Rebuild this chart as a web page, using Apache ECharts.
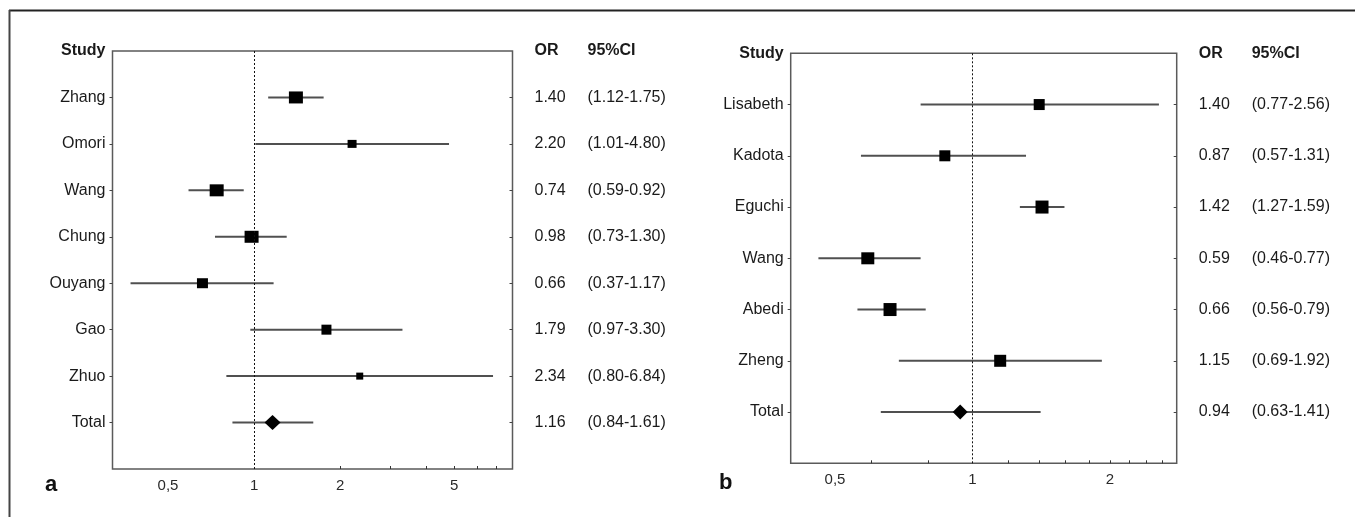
<!DOCTYPE html>
<html>
<head>
<meta charset="utf-8">
<script src="https://cdn.jsdelivr.net/npm/echarts@6/dist/echarts.min.js"></script>
<style>
html,body{margin:0;padding:0;background:#fff;}
#chart{width:1355px;height:517px;}
</style>
</head>
<body>
<div id="chart"></div>
<script>
// ---------- data ----------
const studiesA = ['Zhang', 'Omori', 'Wang', 'Chung', 'Ouyang', 'Gao', 'Zhuo', 'Total'];
const orA      = [1.40, 2.20, 0.74, 0.98, 0.66, 1.79, 2.34, 1.16];
const lowA     = [1.12, 1.01, 0.59, 0.73, 0.37, 0.97, 0.80, 0.84];
const highA    = [1.75, 4.80, 0.92, 1.30, 1.17, 3.30, 6.84, 1.61];

const studiesB = ['Lisabeth', 'Kadota', 'Eguchi', 'Wang', 'Abedi', 'Zheng', 'Total'];
const orB      = [1.40, 0.87, 1.42, 0.59, 0.66, 1.15, 0.94];
const lowB     = [0.77, 0.57, 1.27, 0.46, 0.56, 0.69, 0.63];
const highB    = [2.56, 1.31, 1.59, 0.77, 0.79, 1.92, 1.41];

const xLabelsA = [0.5, 1, 2, 5];
const xMinorA  = [2, 3, 4, 5, 6, 7];
const xLabelsB = [0.5, 1, 2];
const xMinorB  = [0.6, 0.8, 1.2, 1.4, 1.6, 1.8, 2, 2.2, 2.4, 2.6];

const headers = ['Study', 'OR', '95%CI'];
const panelNames = ['a', 'b'];

// ---------- styles ----------
const markSizeA = [[14,12],[9,8],[14,12],[14,12],[11,10],[10,10],[7,7],[16,15]];
const markSizeB = [[11,11],[11,11],[13,13],[13,12],[13,13],[12,12],[15,15]];
const FONT = '"Liberation Sans", Arial, sans-serif';
const TXT = '#1a1a1a';

const chart = echarts.init(document.getElementById('chart'), null, {renderer: 'canvas'});

function fmt(v) { return v.toFixed(2); }
function range(a, b) { const r = []; for (let i = a; i <= b; i++) r.push(i); return r; }

function buildPanel(idx, studies, ors, lows, highs, xmin, xmax, xLabels, xMinor, sizes) {
  const n = studies.length;
  const xAxis = {
    gridIndex: idx, type: 'log', logBase: 10, min: xmin, max: xmax,
    position: 'bottom',
    axisLine: {show: false, onZero: false},
    splitLine: {show: false},
    axisTick: {show: true, inside: true, length: 3, customValues: xMinor,
               lineStyle: {color: '#333', width: 1}},
    axisLabel: {show: true, customValues: xLabels, margin: 9,
                fontFamily: FONT, fontSize: 15, color: '#2a2a2a',
                formatter: v => (Math.round(v * 10) / 10).toString().replace('.', ',')}
  };
  const nameAt = (v) => studies[Math.round(v) - 1];
  const yLeft = {
    gridIndex: idx, type: 'value', min: 0, max: n + 1, inverse: true,
    position: 'left',
    axisLine: {show: false, onZero: false}, splitLine: {show: false},
    axisTick: {show: true, length: 3, customValues: range(1, n),
               lineStyle: {color: '#444'}},
    axisLabel: {customValues: range(0, n), margin: 7, fontFamily: FONT, fontSize: 16, color: TXT,
      formatter: (v) => Math.round(v) === 0 ? '{h|' + headers[0] + '}' : nameAt(v),
      rich: {h: {fontWeight: 'bold', fontFamily: FONT, fontSize: 16, color: TXT}}}
  };
  const yRight = {
    gridIndex: idx, type: 'value', min: 0, max: n + 1, inverse: true,
    position: 'right',
    axisLine: {show: false, onZero: false}, splitLine: {show: false},
    axisTick: {show: true, inside: true, length: 3, customValues: range(1, n),
               lineStyle: {color: '#444'}},
    axisLabel: {customValues: range(0, n), margin: 22, fontFamily: FONT, fontSize: 16, color: TXT,
      formatter: (v) => {
        const i = Math.round(v);
        if (i === 0) return '{ho|' + headers[1] + '}{hc|' + headers[2] + '}';
        const k = i - 1;
        return '{o|' + fmt(ors[k]) + '}{c|(' + fmt(lows[k]) + '-' + fmt(highs[k]) + ')}';
      },
      rich: {
        ho: {width: 53, fontWeight: 'bold', fontFamily: FONT, fontSize: 16, color: TXT},
        hc: {fontWeight: 'bold', fontFamily: FONT, fontSize: 16, color: TXT},
        o: {width: 53, fontFamily: FONT, fontSize: 16, color: TXT},
        c: {fontFamily: FONT, fontSize: 16, color: TXT}
      }}
  };
  const ciSeries = {
    type: 'custom', xAxisIndex: idx, yAxisIndex: idx * 2,
    data: lows.map((l, i) => [l, i + 1, highs[i]]),
    renderItem: (params, api) => {
      const p1 = api.coord([api.value(0), api.value(1)]);
      const p2 = api.coord([api.value(2), api.value(1)]);
      return {type: 'line', shape: {x1: p1[0], y1: p1[1], x2: p2[0], y2: p2[1]},
              style: {stroke: '#505050', lineWidth: 2}};
    },
    silent: true, z: 2
  };
  const ptSeries = {
    type: 'scatter', xAxisIndex: idx, yAxisIndex: idx * 2, z: 3, silent: true,
    data: ors.map((v, i) => ({
      value: [v, i + 1],
      symbol: i === n - 1 ? 'diamond' : 'rect',
      symbolSize: sizes[i]
    })),
    itemStyle: {color: '#000', opacity: 1},
    markLine: {
      silent: true, symbol: ['none', 'none'], label: {show: false},
      lineStyle: {type: [2, 2], color: '#111', width: 1},
      data: [{xAxis: 1}]
    }
  };
  return {xAxis, yAxes: [yLeft, yRight], series: [ciSeries, ptSeries]};
}

const pA = buildPanel(0, studiesA, orA, lowA, highA, 0.32, 8, xLabelsA, xMinorA, markSizeA);
const pB = buildPanel(1, studiesB, orB, lowB, highB, 0.4, 2.8, xLabelsB, xMinorB, markSizeB);

const option = {
  animation: false,
  backgroundColor: '#fff',
  grid: [
    {left: 112.5, top: 51, width: 400, height: 418, show: true,
     borderColor: '#5a5a5a', borderWidth: 1.5, containLabel: false},
    {left: 790.7, top: 53.3, width: 386, height: 410, show: true,
     borderColor: '#5a5a5a', borderWidth: 1.5, containLabel: false}
  ],
  xAxis: [pA.xAxis, pB.xAxis],
  yAxis: [pA.yAxes[0], pA.yAxes[1], pB.yAxes[0], pB.yAxes[1]],
  series: [pA.series[0], pA.series[1], pB.series[0], pB.series[1]],
  graphic: [
    {type: 'line', shape: {x1: 9, y1: 10.5, x2: 1355, y2: 10.5},
     style: {stroke: '#222', lineWidth: 2}, silent: true},
    {type: 'line', shape: {x1: 9.5, y1: 10, x2: 9.5, y2: 517},
     style: {stroke: '#444', lineWidth: 2}, silent: true},
    {type: 'text', left: 45, top: 474,
     style: {text: panelNames[0], font: 'bold 22px ' + FONT, fill: '#111'}},
    {type: 'text', left: 719, top: 472,
     style: {text: panelNames[1], font: 'bold 22px ' + FONT, fill: '#111'}}
  ]
};
chart.setOption(option);
</script>
</body>
</html>
